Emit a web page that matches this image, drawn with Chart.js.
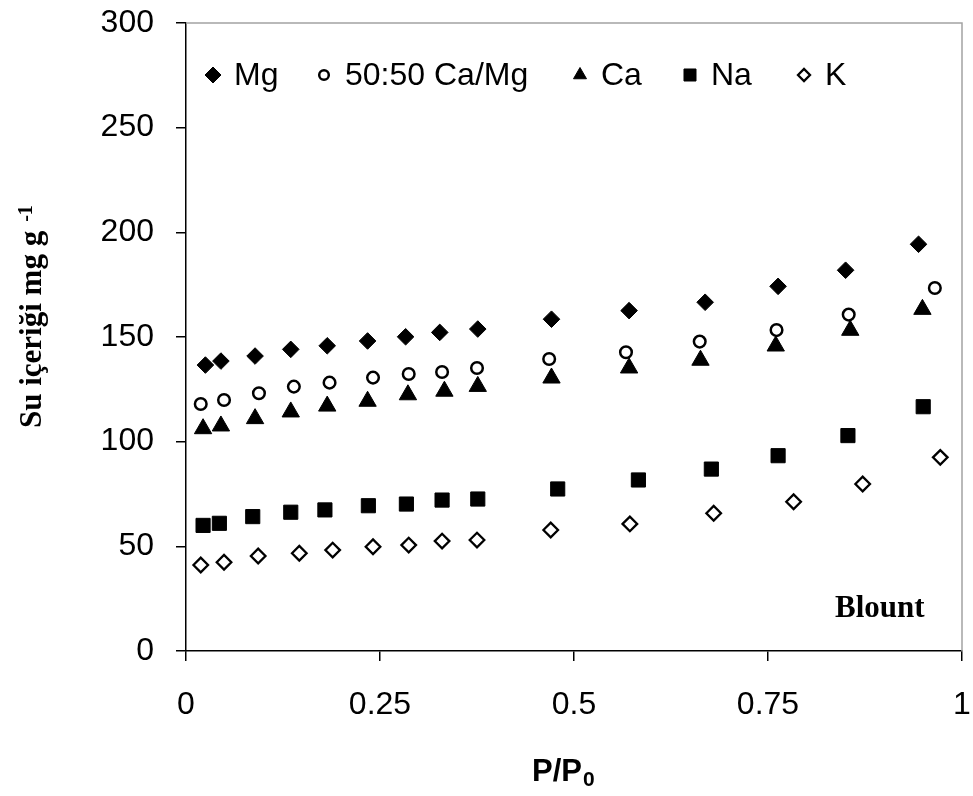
<!DOCTYPE html>
<html lang="tr">
<head>
<meta charset="utf-8">
<title>Su içeriği - Blount</title>
<script src="https://cdn.jsdelivr.net/npm/chart.js@4.4.1/dist/chart.umd.min.js"></script>
<style>
  html, body { margin: 0; padding: 0; background: #fff; }
  #contenedor { width: 973px; height: 796px; }
</style>
</head>
<body>
<div id="contenedor"><canvas id="grafico" width="973" height="796"></canvas></div>
<script>
// Datos (P/P0 vs contenido de agua, mg g-1)
const mgX = [0.025, 0.045, 0.089, 0.135, 0.182, 0.234, 0.283, 0.327, 0.376, 0.471, 0.571, 0.669, 0.763, 0.850, 0.944];
const mgY = [136.6, 138.5, 140.9, 144.1, 145.8, 148.1, 150.1, 152.2, 153.8, 158.5, 162.6, 166.6, 174.2, 181.9, 194.3];

const camgX = [0.019, 0.049, 0.094, 0.139, 0.185, 0.241, 0.287, 0.330, 0.375, 0.468, 0.567, 0.662, 0.761, 0.854, 0.965];
const camgY = [118.0, 119.9, 123.1, 126.3, 128.2, 130.6, 132.3, 133.3, 135.2, 139.5, 142.7, 147.8, 153.3, 160.7, 173.4];

const caX = [0.022, 0.045, 0.089, 0.135, 0.182, 0.234, 0.286, 0.333, 0.376, 0.471, 0.571, 0.663, 0.760, 0.856, 0.949];
const caY = [106.2, 107.5, 111.0, 114.2, 117.0, 119.3, 122.4, 124.1, 126.4, 130.4, 135.2, 138.9, 145.7, 153.2, 163.2];

const naX = [0.022, 0.043, 0.086, 0.135, 0.179, 0.235, 0.284, 0.330, 0.376, 0.479, 0.583, 0.677, 0.763, 0.853, 0.950];
const naY = [60.0, 61.0, 64.2, 66.3, 67.4, 69.4, 70.2, 72.1, 72.6, 77.4, 81.7, 86.9, 93.3, 102.9, 116.7];

const kX = [0.019, 0.049, 0.093, 0.146, 0.189, 0.241, 0.287, 0.330, 0.375, 0.470, 0.572, 0.680, 0.783, 0.872, 0.972];
const kY = [41.1, 42.4, 45.4, 46.7, 48.2, 49.8, 50.6, 52.5, 53.0, 57.8, 60.7, 65.8, 71.3, 79.8, 92.5];

const etiquetasSeries = ['Mg', '50:50 Ca/Mg', 'Ca', 'Na', 'K'];
const xTicks = [0, 0.25, 0.5, 0.75, 1];
const xTickLabels = ['0', '0.25', '0.5', '0.75', '1'];
const yTicks = [0, 50, 100, 150, 200, 250, 300];
const yTickLabels = ['0', '50', '100', '150', '200', '250', '300'];

const fuenteSans = '"Liberation Sans", Arial, sans-serif';
const fuenteSerif = '"Liberation Serif", "Times New Roman", serif';

function puntos(xs, ys) {
    return xs.map((x, i) => ({ x: x, y: ys[i] }));
}

// estilo de cada serie: marcador en la gráfica y en la leyenda
const estilos = [
    { pointStyle: 'rectRot', radius: 8.3, legendRadius: 8, bg: '#000', borderWidth: 1 },
    { pointStyle: 'circle', radius: 5.8, legendRadius: 4.8, bg: '#fff', borderWidth: 2.5 },
    { pointStyle: 'triangle', radius: 10, legendRadius: 7.5, bg: '#000', borderWidth: 1 },
    { pointStyle: 'rect', radius: 10, legendRadius: 8.5, bg: '#000', borderWidth: 1 },
    { pointStyle: 'rectRot', radius: 7.3, legendRadius: 6, bg: '#fff', borderWidth: 2.3 }
];

const series = [puntos(mgX, mgY), puntos(camgX, camgY), puntos(caX, caY), puntos(naX, naY), puntos(kX, kY)];

const datasets = series.map((data, i) => ({
    label: etiquetasSeries[i],
    data: data,
    showLine: false,
    pointStyle: estilos[i].pointStyle,
    pointRadius: estilos[i].radius,
    pointBackgroundColor: estilos[i].bg,
    pointBorderColor: '#000',
    pointBorderWidth: estilos[i].borderWidth,
    legendRadius: estilos[i].legendRadius
}));

// leyenda, títulos, marco gris y texto "Blount"
const decoracion = {
    id: 'decoracion',
    afterDraw(chart) {
        const ctx = chart.ctx;
        const area = chart.chartArea;
        ctx.save();

        // marco superior y derecho (gris claro)
        ctx.strokeStyle = '#a3a3a3';
        ctx.lineWidth = 1.5;
        ctx.beginPath();
        ctx.moveTo(area.left, area.top);
        ctx.lineTo(area.right, area.top);
        ctx.lineTo(area.right, area.bottom);
        ctx.stroke();

        // leyenda dentro del área
        const legX = [213, 324, 580, 690, 804];
        const legY = 75;
        ctx.font = '32px ' + fuenteSans;
        ctx.textBaseline = 'middle';
        ctx.textAlign = 'left';
        chart.data.datasets.forEach((ds, i) => {
            ctx.fillStyle = ds.pointBackgroundColor;
            ctx.strokeStyle = '#000';
            ctx.lineWidth = ds.pointBorderWidth;
            Chart.helpers.drawPoint(ctx, {
                pointStyle: ds.pointStyle,
                radius: ds.legendRadius,
                rotation: 0,
                borderWidth: ds.pointBorderWidth
            }, legX[i], legY);
            ctx.fillStyle = '#000';
            ctx.fillText(ds.label, legX[i] + 21, legY + 1);
        });

        // título eje X: P/P0
        ctx.fillStyle = '#000';
        ctx.textBaseline = 'alphabetic';
        ctx.font = 'bold 31px ' + fuenteSans;
        const xt = 'P/P';
        const xtX = 532, xtY = 781;
        ctx.fillText(xt, xtX, xtY);
        const w1 = ctx.measureText(xt).width;
        ctx.font = 'bold 21px ' + fuenteSans;
        ctx.fillText('0', xtX + w1 + 1, xtY + 5);

        // título eje Y (rotado)
        ctx.save();
        ctx.translate(41, 428);
        ctx.rotate(-Math.PI / 2);
        ctx.font = 'bold 31px ' + fuenteSerif;
        const yt = 'Su içeriği mg g';
        ctx.fillText(yt, 0, 0);
        const w2 = ctx.measureText(yt).width;
        ctx.font = 'bold 20px ' + fuenteSerif;
        ctx.fillText('-1', w2 + 9, -9);
        ctx.restore();

        // etiqueta del suelo
        ctx.font = 'bold 31px ' + fuenteSerif;
        ctx.fillText('Blount', 835, 617);

        ctx.restore();
    }
};

const ctx = document.getElementById('grafico').getContext('2d');
const grafico = new Chart(ctx, {
    type: 'scatter',
    data: { datasets: datasets },
    options: {
        responsive: false,
        devicePixelRatio: 1,
        animation: false,
        layout: { padding: { top: 23, right: 11, left: 0, bottom: 0 } },
        plugins: {
            legend: { display: false },
            tooltip: { enabled: false }
        },
        scales: {
            x: {
                type: 'linear',
                min: 0,
                max: 1,
                afterFit: scale => {
                    scale.height = 145;
                    scale.paddingLeft = 0;
                    scale.paddingRight = 0;
                },
                afterBuildTicks: scale => { scale.ticks = xTicks.map(v => ({ value: v })); },
                ticks: {
                    padding: 25,
                    maxRotation: 0,
                    autoSkip: false,
                    color: '#000',
                    font: { size: 32, family: fuenteSans },
                    callback: function(value) {
                        const i = xTicks.indexOf(value);
                        return i >= 0 ? xTickLabels[i] : '';
                    }
                },
                grid: {
                    drawOnChartArea: false,
                    drawTicks: true,
                    tickLength: 10,
                    color: '#000',
                    lineWidth: 1.5
                },
                border: { color: '#000', width: 1.5 }
            },
            y: {
                type: 'linear',
                min: 0,
                max: 300,
                afterFit: scale => {
                    scale.width = 186;
                    scale.paddingTop = 0;
                    scale.paddingBottom = 0;
                },
                afterBuildTicks: scale => { scale.ticks = yTicks.map(v => ({ value: v })); },
                ticks: {
                    padding: 22,
                    autoSkip: false,
                    color: '#000',
                    font: { size: 32, family: fuenteSans },
                    callback: function(value) {
                        const i = yTicks.indexOf(value);
                        return i >= 0 ? yTickLabels[i] : '';
                    }
                },
                grid: {
                    drawOnChartArea: false,
                    drawTicks: true,
                    tickLength: 10,
                    color: '#000',
                    lineWidth: 1.5
                },
                border: { color: '#000', width: 1.5 }
            }
        }
    },
    plugins: [decoracion]
});
</script>
</body>
</html>
